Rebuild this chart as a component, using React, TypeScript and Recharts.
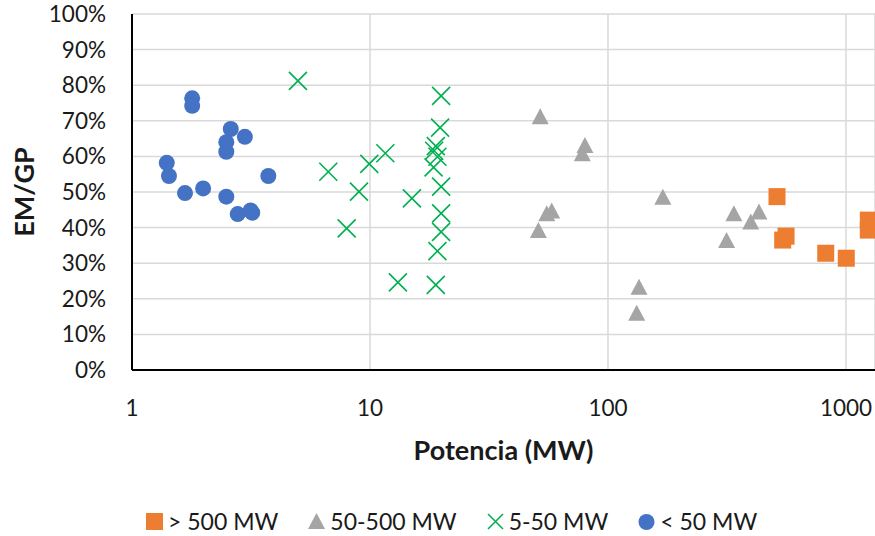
import { CartesianGrid, Scatter, ScatterChart, XAxis, YAxis } from 'recharts';

// potencia (MW), EM/GP
const over500: [number, number][] = [
  [513, 0.487], [560, 0.376], [542, 0.365], [822, 0.328], [1003, 0.314], [1241, 0.421], [1241, 0.393],
];
const from50to500: [number, number][] = [
  [51.9, 0.713], [80, 0.632], [78, 0.609], [170, 0.487], [58, 0.448], [55.3, 0.44], [51, 0.393],
  [135, 0.234], [132, 0.161], [338, 0.44], [431, 0.445], [398, 0.417], [315, 0.365],
];
const from5to50: [number, number][] = [
  [4.98, 0.812], [19.9, 0.77], [19.7, 0.681], [18.9, 0.629], [18.6, 0.616], [19.2, 0.599], [18.5, 0.569],
  [11.6, 0.609], [9.93, 0.579], [6.68, 0.557], [19.9, 0.515], [8.99, 0.501], [15.0, 0.482], [19.9, 0.44],
  [19.9, 0.388], [7.98, 0.398], [19.2, 0.334], [13.1, 0.246], [18.9, 0.239],
];
const under50: [number, number][] = [
  [1.79, 0.763], [1.79, 0.742], [2.6, 0.677], [2.98, 0.655], [2.49, 0.64], [2.49, 0.613], [1.4, 0.582],
  [1.43, 0.545], [3.74, 0.545], [1.67, 0.497], [1.99, 0.51], [2.49, 0.487], [2.78, 0.438], [3.15, 0.448],
  [3.2, 0.442],
];

const xTicks = [1, 10, 100, 1000];
const yTicks = [0, 0.1, 0.2, 0.3, 0.4, 0.5, 0.6, 0.7, 0.8, 0.9, 1];

const font = 'Lato, "Open Sans", sans-serif';
const text = '#1a1a1a';

const toPoints = (rows: [number, number][]) => rows.map(([p, r]) => ({ p, r }));

const Square = ({ cx, cy }: any) => <rect x={cx - 8.5} y={cy - 8.5} width={17} height={17} fill="#ED7D31" />;
const Triangle = ({ cx, cy }: any) => (
  <path d={`M${cx},${cy - 8} L${cx + 8.5},${cy + 8} L${cx - 8.5},${cy + 8} Z`} fill="#A5A5A5" />
);
const Cross = ({ cx, cy }: any) => (
  <path d={`M${cx - 9},${cy - 9} L${cx + 9},${cy + 9} M${cx + 9},${cy - 9} L${cx - 9},${cy + 9}`} stroke="#00B050" strokeWidth={1.6} fill="none" />
);
const Dot = ({ cx, cy }: any) => <circle cx={cx} cy={cy} r={8} fill="#4472C4" />;

const legendItems = [
  { name: '> 500 MW', icon: <rect x={1} y={1} width={17} height={17} fill="#ED7D31" /> },
  { name: '50-500 MW', icon: <path d="M9.5,1 L18,17 L1,17 Z" fill="#A5A5A5" /> },
  { name: '5-50 MW', icon: <path d="M2,2 L17,17 M17,2 L2,17" stroke="#00B050" strokeWidth={1.5} /> },
  { name: '< 50 MW', icon: <circle cx={9.5} cy={10} r={8} fill="#4472C4" /> },
];

export default function App() {
  return (
    <div style={{ position: 'absolute', left: 0, top: 0, width: 875, height: 536, background: '#fff', fontFamily: font }}>
      <ScatterChart width={875} height={536} margin={{ top: 14, right: 0, bottom: 76, left: 0 }}>
        <CartesianGrid stroke="#d9d9d9" strokeWidth={1.5} />
        <XAxis
          type="number"
          dataKey="p"
          scale="log"
          domain={[1, 1324]}
          allowDataOverflow
          ticks={xTicks}
          height={90}
          tickLine={false}
          tickMargin={24}
          axisLine={{ stroke: '#000', strokeWidth: 2 }}
          tick={{ fontSize: 22.5, fill: text, fontFamily: font }}
          label={(props: any) => {
            const vb = props.viewBox;
            return (
              <text x={vb.x + vb.width / 2} y={449} textAnchor="middle" dominantBaseline="central" fontSize={27} fontWeight="bold" fill={text} fontFamily={font}>
                Potencia (MW)
              </text>
            );
          }}
        />
        <YAxis
          type="number"
          dataKey="r"
          domain={[0, 1]}
          ticks={yTicks}
          width={132}
          tickLine={false}
          tickMargin={20}
          axisLine={{ stroke: '#000', strokeWidth: 2 }}
          tickFormatter={(v: number) => `${Math.round(v * 100)}%`}
          tick={{ fontSize: 22.5, fill: text, fontFamily: font }}
          label={(props: any) => {
            const vb = props.viewBox;
            const cy = vb.y + vb.height / 2;
            return (
              <text x={23} y={cy} transform={`rotate(-90 23 ${cy})`} textAnchor="middle" dominantBaseline="central" fontSize={27} fontWeight="bold" fill={text} fontFamily={font}>
                EM/GP
              </text>
            );
          }}
        />
        <Scatter name="> 500 MW" data={toPoints(over500)} shape={Square} isAnimationActive={false} />
        <Scatter name="50-500 MW" data={toPoints(from50to500)} shape={Triangle} isAnimationActive={false} />
        <Scatter name="5-50 MW" data={toPoints(from5to50)} shape={Cross} isAnimationActive={false} />
        <Scatter name="< 50 MW" data={toPoints(under50)} shape={Dot} isAnimationActive={false} />
      </ScatterChart>
      <div style={{ position: 'absolute', left: 145, top: 507, height: 28, display: 'flex', alignItems: 'center', gap: 29, fontSize: 23, color: text }}>
        {legendItems.map((item) => (
          <div key={item.name} style={{ display: 'flex', alignItems: 'center', gap: 4 }}>
            <svg width={19} height={19}>{item.icon}</svg>
            <span>{item.name}</span>
          </div>
        ))}
      </div>
    </div>
  );
}
